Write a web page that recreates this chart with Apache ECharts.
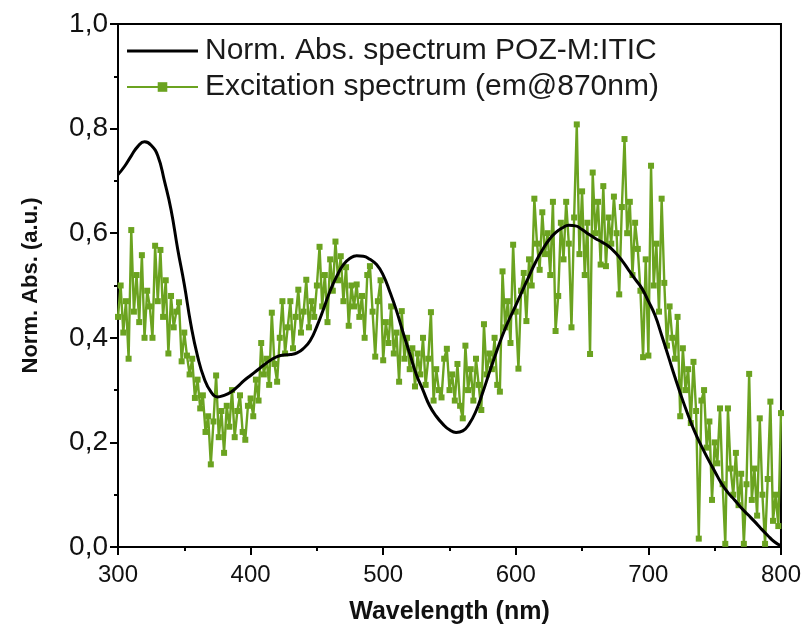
<!DOCTYPE html>
<html>
<head>
<meta charset="utf-8">
<script src="https://cdn.jsdelivr.net/npm/echarts@6/dist/echarts.min.js"></script>
<style>html,body{margin:0;padding:0;background:#fff}#c{width:804px;height:630px}</style>
</head>
<body>
<div id="c"></div>
<script>
// Norm. Abs. spectrum, 300..800 nm every 5 nm
const absStart = 300, absStep = 5;
const absValues = [
0.712,0.728,0.748,0.766,0.775,0.768,0.748,0.700,0.645,0.570,
0.502,0.425,0.365,0.322,0.297,0.287,0.290,0.296,0.306,0.318,
0.328,0.338,0.348,0.357,0.364,0.367,0.368,0.371,0.380,0.395,
0.422,0.455,0.490,0.518,0.540,0.552,0.557,0.556,0.550,0.540,
0.520,0.488,0.452,0.410,0.370,0.330,0.300,0.270,0.250,0.235,
0.224,0.219,0.222,0.236,0.260,0.295,0.333,0.370,0.405,0.435,
0.462,0.490,0.518,0.545,0.568,0.587,0.601,0.610,0.615,0.614,
0.607,0.598,0.590,0.583,0.575,0.563,0.548,0.530,0.512,0.495,
0.470,0.443,0.405,0.365,0.325,0.287,0.252,0.220,0.193,0.168,
0.145,0.122,0.104,0.090,0.075,0.062,0.049,0.035,0.022,0.010,
0.002];
// Excitation spectrum (em@870nm), 300..800 nm every 2 nm
const excStart = 300, excStep = 2;
const excValues = [
0.44,0.50,0.41,0.47,0.36,0.606,0.45,0.52,0.43,0.558,
0.40,0.49,0.46,0.40,0.576,0.47,0.568,0.44,0.51,0.37,
0.48,0.42,0.45,0.468,0.355,0.41,0.366,0.33,0.36,0.285,
0.32,0.265,0.29,0.22,0.25,0.158,0.24,0.328,0.21,0.26,
0.18,0.27,0.23,0.30,0.21,0.26,0.29,0.22,0.205,0.27,
0.284,0.25,0.32,0.28,0.39,0.33,0.36,0.31,0.448,0.35,
0.316,0.40,0.47,0.37,0.42,0.47,0.38,0.44,0.492,0.41,
0.45,0.511,0.42,0.47,0.44,0.50,0.574,0.46,0.52,0.43,
0.55,0.49,0.584,0.51,0.556,0.47,0.535,0.423,0.50,0.46,
0.502,0.44,0.48,0.40,0.52,0.537,0.45,0.364,0.47,0.51,
0.357,0.43,0.39,0.46,0.37,0.41,0.316,0.451,0.36,0.40,
0.34,0.38,0.307,0.37,0.33,0.40,0.31,0.36,0.449,0.28,
0.34,0.30,0.286,0.36,0.379,0.30,0.33,0.28,0.35,0.27,
0.246,0.385,0.30,0.34,0.28,0.36,0.31,0.262,0.426,0.33,
0.37,0.34,0.40,0.31,0.297,0.527,0.42,0.47,0.39,0.578,
0.45,0.341,0.49,0.524,0.432,0.55,0.50,0.666,0.58,0.53,
0.64,0.56,0.60,0.52,0.66,0.413,0.48,0.62,0.55,0.66,
0.58,0.42,0.63,0.808,0.56,0.68,0.52,0.62,0.369,0.716,
0.60,0.66,0.54,0.69,0.537,0.63,0.58,0.67,0.60,0.483,
0.65,0.78,0.60,0.66,0.52,0.62,0.57,0.49,0.363,0.55,
0.366,0.729,0.50,0.58,0.45,0.666,0.505,0.385,0.46,0.40,
0.36,0.44,0.25,0.38,0.30,0.34,0.237,0.354,0.26,0.016,
0.28,0.30,0.19,0.24,0.09,0.20,0.16,0.265,0.12,0.006,
0.265,0.15,0.10,0.18,0.08,0.14,0.006,0.12,0.331,0.09,
0.15,0.06,0.246,0.10,0.006,0.13,0.278,0.05,0.10,0.04,
0.256];
const seriesNames = ['Norm. Abs. spectrum POZ-M:ITIC', 'Excitation spectrum (em@870nm)'];
const xTitle = 'Wavelength (nm)';
const yTitle = 'Norm. Abs. (a.u.)';

const absData = absValues.map((v, i) => [absStart + i * absStep, v]);
const excData = excValues.map((v, i) => [excStart + i * excStep, v]);

const chart = echarts.init(document.getElementById('c'), null, {renderer: 'canvas'});
const GREEN = '#6ba320';
const FONT = 'Liberation Sans, Arial, sans-serif';
const LINE_ICON = 'path://M0,0L71,0L71,0.01L0,0.01Z M0,4.5L71,4.5L71,7.5L0,7.5Z M0,12L71,12L71,12.01L0,12.01Z';
chart.setOption({
  animation: false,
  backgroundColor: '#fff',
  grid: {left: 118, right: 18, top: 24, bottom: 73, show: true, borderColor: '#000', borderWidth: 2, containLabel: false},
  legend: {
    data: [{name: seriesNames[0], icon: LINE_ICON}, {name: seriesNames[1]}],
    orient: 'vertical',
    left: 121, top: 31,
    itemWidth: 71, itemHeight: 12, itemGap: 6,
    textStyle: {fontFamily: FONT, fontSize: 30, color: '#1a1a1a', padding: [0, 0, 0, 2]},
    selectedMode: false
  },
  xAxis: {
    type: 'value', min: 300, max: 800, interval: 100,
    name: xTitle, nameLocation: 'middle', nameGap: 53,
    nameTextStyle: {fontFamily: FONT, fontWeight: 'bold', fontSize: 25, color: '#111'},
    axisLine: {show: true, lineStyle: {color: '#000', width: 2}},
    axisTick: {show: true, inside: false, length: 8, lineStyle: {color: '#000', width: 2}},
    minorTick: {show: true, splitNumber: 2, length: 4, lineStyle: {color: '#000', width: 2}},
    axisLabel: {fontFamily: FONT, fontSize: 24, color: '#111', margin: 16},
    splitLine: {show: false}
  },
  yAxis: {
    type: 'value', min: 0, max: 1, interval: 0.2,
    name: yTitle, nameLocation: 'middle', nameGap: 76, nameRotate: 90,
    nameTextStyle: {fontFamily: FONT, fontWeight: 'bold', fontSize: 22, color: '#111'},
    axisLine: {show: true, lineStyle: {color: '#000', width: 2}},
    axisTick: {show: true, inside: false, length: 8, lineStyle: {color: '#000', width: 2}},
    minorTick: {show: true, splitNumber: 2, length: 4, lineStyle: {color: '#000', width: 2}},
    axisLabel: {fontFamily: FONT, fontSize: 28, color: '#111', margin: 10,
      formatter: v => v.toFixed(1).replace('.', ',')},
    splitLine: {show: false}
  },
  series: [
    {
      name: seriesNames[1], type: 'line', data: excData,
      symbol: 'rect', symbolSize: 6, showSymbol: true,
      lineStyle: {color: GREEN, width: 2.4}, itemStyle: {color: GREEN},
      z: 2
    },
    {
      name: seriesNames[0], type: 'line', data: absData,
      smooth: true, symbol: 'none', showSymbol: false,
      lineStyle: {color: '#000', width: 3}, itemStyle: {color: '#000'},
      z: 3
    }
  ]
});
</script>
</body>
</html>
